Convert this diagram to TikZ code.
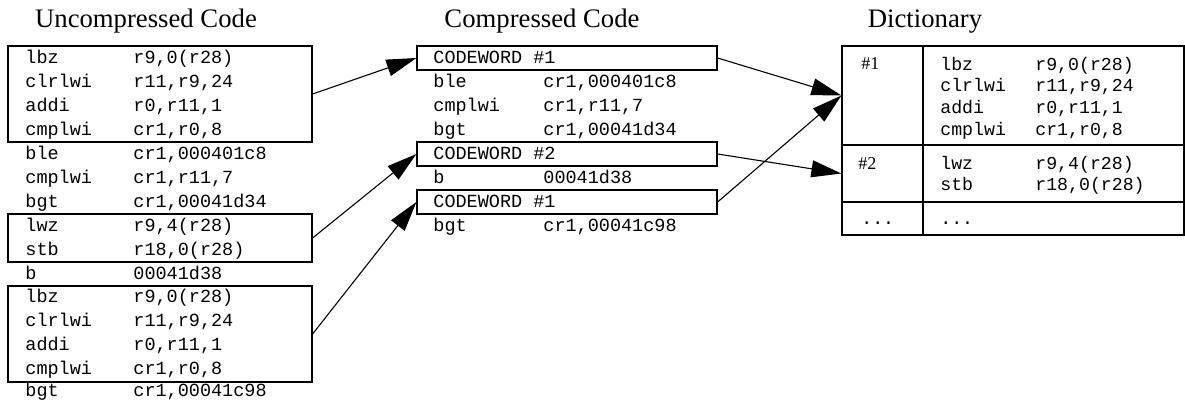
\documentclass[tikz,border=0pt]{standalone}
\usepackage{fontspec}
\setmainfont{Liberation Serif}
\newfontfamily\monofont{Liberation Mono}
\usetikzlibrary{arrows.meta,fit}
\tikzset{
  mono/.style={anchor=base west, inner sep=0pt, font=\monofont\fontsize{9.25pt}{10pt}\selectfont},
  dmono/.style={anchor=base west, inner sep=0pt, font=\monofont\fontsize{9.1pt}{10pt}\selectfont},
  dkey/.style={anchor=base west, inner sep=0pt, font=\fontsize{9pt}{10pt}\selectfont},
  title/.style={anchor=base, inner sep=0pt, font=\fontsize{13.35pt}{15pt}\selectfont},
  box/.style={draw, line width=0.6pt, inner sep=0pt},
  arr/.style={line width=0.55pt, -{Triangle[length=15pt,width=8.5pt]}},
}
\newcommand\asmrow[6]{%
  \node[mono] (#1m) at (#3,#2) {#5};
  \node[mono] (#1o) at (#4,#2) {#6};}
\newcommand\dictrow[5]{%
  \node[dmono] (#1m) at (#3,#2) {#4};
  \node[dmono] (#1o) at (1035,#2) {#5};}
\begin{document}
\begin{tikzpicture}[x=0.5pt,y=-0.5pt]
\useasboundingbox (0,0) rectangle (1185,402);

% titles
\node[title] (tu) at (146,27) {Uncompressed Code};
\node[title] (tc) at (542,27) {Compressed Code};
\node[title] (td) at (925,27) {Dictionary};

% uncompressed code
\asmrow{ua}{63}{25}{133}{lbz}{r9,0(r28)}
\asmrow{ub}{87}{25}{133}{clrlwi}{r11,r9,24}
\asmrow{uc}{111}{25}{133}{addi}{r0,r11,1}
\asmrow{ud}{135}{25}{133}{cmplwi}{cr1,r0,8}
\asmrow{ue}{159}{25}{133}{ble}{cr1,000401c8}
\asmrow{uf}{183}{25}{133}{cmplwi}{cr1,r11,7}
\asmrow{ug}{207}{25}{133}{bgt}{cr1,00041d34}
\asmrow{uh}{231}{25}{133}{lwz}{r9,4(r28)}
\asmrow{ui}{255}{25}{133}{stb}{r18,0(r28)}
\asmrow{uj}{279}{25}{133}{b}{00041d38}
\asmrow{uk}{302}{25}{133}{lbz}{r9,0(r28)}
\asmrow{ul}{326}{25}{133}{clrlwi}{r11,r9,24}
\asmrow{um}{350}{25}{133}{addi}{r0,r11,1}
\asmrow{un}{374}{25}{133}{cmplwi}{cr1,r0,8}
\asmrow{uo}{396}{25}{133}{bgt}{cr1,00041c98}

\node[box, fit={(8,46) (312,142)}] (u1) {};
\node[box, fit={(8,214) (312,262)}] (u2) {};
\node[box, fit={(8,286) (312,382)}] (u3) {};

% compressed code
\node[mono] (cw1) at (433,63) {CODEWORD \#1};
\asmrow{cb}{87}{433}{543}{ble}{cr1,000401c8}
\asmrow{cc}{111}{433}{543}{cmplwi}{cr1,r11,7}
\asmrow{cd}{135}{433}{543}{bgt}{cr1,00041d34}
\node[mono] (cw2) at (433,159) {CODEWORD \#2};
\asmrow{cf}{183}{433}{543}{b}{00041d38}
\node[mono] (cw3) at (433,207) {CODEWORD \#1};
\asmrow{ch}{231}{433}{543}{bgt}{cr1,00041c98}

\node[box, fit={(417,46) (717,70)}] (c1) {};
\node[box, fit={(417,142) (717,166)}] (c2) {};
\node[box, fit={(417,190) (717,214)}] (c3) {};

% dictionary
\node[box, fit={(842,46) (923,145)}] (d1k) {};
\node[box, fit={(923,46) (1184,145)}] (d1v) {};
\node[box, fit={(842,145) (923,202)}] (d2k) {};
\node[box, fit={(923,145) (1184,202)}] (d2v) {};
\node[box, fit={(842,202) (923,235)}] (d3k) {};
\node[box, fit={(923,202) (1184,235)}] (d3v) {};

\node[dkey] (k1) at (861,69) {\#1};
\node[dkey] (k2) at (858,169) {\#2};
\node[dmono] (k3) at (861,224) {...};

\dictrow{da}{70}{940}{lbz}{r9,0(r28)}
\dictrow{db}{91.7}{940}{clrlwi}{r11,r9,24}
\dictrow{dc}{113.3}{940}{addi}{r0,r11,1}
\dictrow{dd}{135}{940}{cmplwi}{cr1,r0,8}
\dictrow{de}{169}{940}{lwz}{r9,4(r28)}
\dictrow{df}{190.7}{940}{stb}{r18,0(r28)}
\node[dmono] (dg) at (940,224) {...};

% arrows
\draw[arr] (u1.east) -- (c1.west);
\draw[arr] (u2.east) -- (c2.west);
\draw[arr] (u3.east) -- (c3.west);
\draw[arr] (c1.east) -- (d1k.west);
\draw[arr] (c2.east) -- (d2k.west);
\draw[arr] (c3.east) -- (d1k.west);
\end{tikzpicture}
\end{document}
